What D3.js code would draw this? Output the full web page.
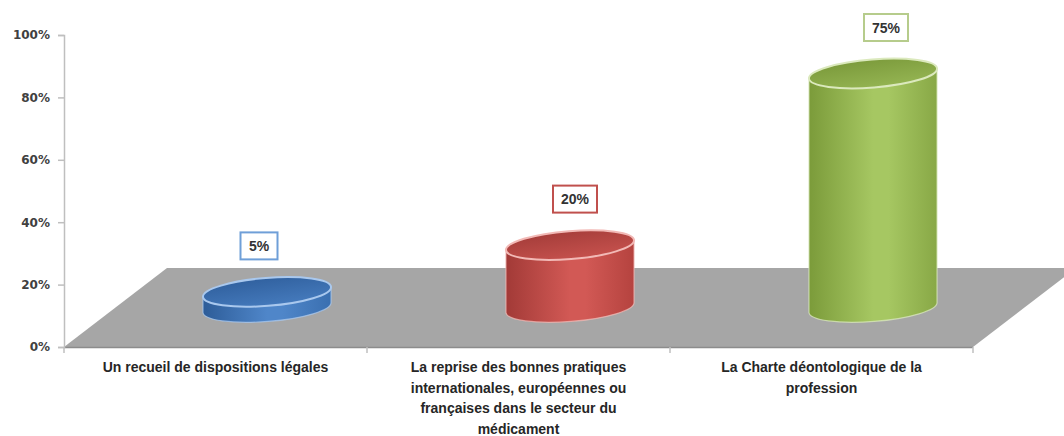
<!DOCTYPE html>
<html><head><meta charset="utf-8">
<script src="https://cdn.jsdelivr.net/npm/d3@7"></script>
<style>body{margin:0;background:#fff}svg{display:block}</style>
</head><body><svg id="c" width="1064" height="436"></svg>
<script>
const categories = [
  ["Un recueil de dispositions légales"],
  ["La reprise des bonnes pratiques","internationales, européennes ou","françaises dans le secteur du","médicament"],
  ["La Charte déontologique de la","profession"]
];
const values = [5, 20, 75];
const valueLabels = ["5%", "20%", "75%"];
const yTicks = [0, 20, 40, 60, 80, 100];
const bodyColors = [["#2d5c98","#4f86c9","#3a6fb0"],["#a23a37","#d25955","#b5433f"],["#7b9b3a","#a6c762","#88a846"]];
const topColors = [["#30609e","#4479bb"],["#a53d3a","#c4504c"],["#7b9a3b","#93b351"]];
const rimColors = ["#a9c8ee","#f2b9b6","#dbe9bd"];
const boxColors = ["#6f9fd8","#c0504d","#b6cc8c"];
const labelDx = [-8, 5, 13];

const svg = d3.select("#c");
const defs = svg.append("defs");
const x0 = 64, x1 = 973, yBase = 347, yTop = 35;
const depthDx = 103, depthDy = 79;
const y = d3.scaleLinear().domain([0,100]).range([yBase, yTop]);
const x = d3.scaleBand().domain(d3.range(categories.length)).range([x0, x1]);

// floor
svg.append("path")
  .attr("d", `M${x0},${yBase} L${x0+depthDx},${yBase-depthDy} L${x1+depthDx},${yBase-depthDy} L${x1},${yBase} Z`)
  .attr("fill", "#a6a6a6");
svg.append("line").attr("x1",x0).attr("x2",x1).attr("y1",yBase+0.5).attr("y2",yBase+0.5)
  .attr("stroke","#8c8c8c").attr("stroke-width",1.5);

// y axis
const yAxis = svg.append("g").attr("transform",`translate(${x0},0)`)
  .call(d3.axisLeft(y).tickValues(yTicks).tickFormat(d => d + "%").tickSize(6).tickPadding(8));
yAxis.select(".domain").attr("stroke","#bfbfbf").attr("stroke-width",1.5);
yAxis.selectAll(".tick line").attr("stroke","#bfbfbf").attr("stroke-width",1.5);
yAxis.selectAll(".tick text").attr("fill","#404040").attr("font-family","DejaVu Sans, sans-serif")
  .attr("font-weight","bold").attr("font-size","12px");

// x ticks
const xTickPos = d3.range(categories.length + 1).map(i => i < categories.length ? x(i) : x1);
svg.selectAll(".xt").data(xTickPos).enter().append("line")
  .attr("x1", d => d).attr("x2", d => d).attr("y1", yBase).attr("y2", yBase + 6)
  .attr("stroke", "#bfbfbf").attr("stroke-width", 1.5);

// category labels
const bw = x.bandwidth();
categories.forEach((lines, i) => {
  const t = svg.append("text").attr("text-anchor","middle")
    .attr("font-family","Liberation Sans, Arial, sans-serif").attr("font-weight","bold")
    .attr("font-size","14px").attr("fill","#262626");
  lines.forEach((l, j) => t.append("tspan").attr("x", x(i) + bw/2).attr("y", 372 + j*20.5).text(l));
});

// cylinders
const rx = bw * 0.212, ry = 14, tilt = -4.5;
const ca = Math.cos(tilt*Math.PI/180), sa = Math.sin(tilt*Math.PI/180);
values.forEach((v, i) => {
  const g = bodyColors[i];
  const gid = "g" + i, tid = "t" + i;
  const lg = defs.append("linearGradient").attr("id", gid).attr("x1","0").attr("x2","1").attr("y1","0").attr("y2","0");
  lg.append("stop").attr("offset","0").attr("stop-color", g[0]);
  lg.append("stop").attr("offset","0.5").attr("stop-color", g[1]);
  lg.append("stop").attr("offset","0.62").attr("stop-color", g[1]);
  lg.append("stop").attr("offset","1").attr("stop-color", g[2]);
  const tg = defs.append("linearGradient").attr("id", tid).attr("x1","0.2").attr("x2","0.5").attr("y1","0").attr("y2","1");
  tg.append("stop").attr("offset","0").attr("stop-color", topColors[i][0]);
  tg.append("stop").attr("offset","1").attr("stop-color", topColors[i][1]);

  const cx = x(i) + bw/2 + depthDx/2;
  const cyB = yBase - depthDy/2;
  const h = y(0) - y(v);
  const cyT = cyB - h;
  const lx0 = cx - rx*ca, ldy = -rx*sa, rx0 = cx + rx*ca;
  svg.append("path")
    .attr("d", `M${lx0},${cyT+ldy} L${lx0},${cyB+ldy} A${rx},${ry} ${tilt} 0 0 ${rx0},${cyB-ldy} L${rx0},${cyT-ldy} Z`)
    .attr("fill", `url(#${gid})`).attr("stroke", rimColors[i]).attr("stroke-width", 1.2).attr("stroke-opacity",0.75);
  svg.append("ellipse").attr("cx", cx).attr("cy", cyT).attr("rx", rx).attr("ry", ry)
    .attr("transform", `rotate(${tilt},${cx},${cyT})`)
    .attr("fill", `url(#${tid})`).attr("stroke", rimColors[i]).attr("stroke-width", 2);

  // label
  const lx = cx + labelDx[i], ly = cyT - 46;
  const bwBox = valueLabels[i].length > 2 ? 44 : 37;
  svg.append("rect").attr("x", lx - bwBox/2).attr("y", ly - 13.5).attr("width", bwBox).attr("height", 27)
    .attr("fill","#fff").attr("stroke", boxColors[i]).attr("stroke-width", 2);
  svg.append("text").attr("x", lx).attr("y", ly + 5).attr("text-anchor","middle")
    .attr("font-family","Liberation Sans, Arial, sans-serif").attr("font-weight","bold")
    .attr("font-size","14px").attr("fill","#333").text(valueLabels[i]);
});
</script></body></html>
